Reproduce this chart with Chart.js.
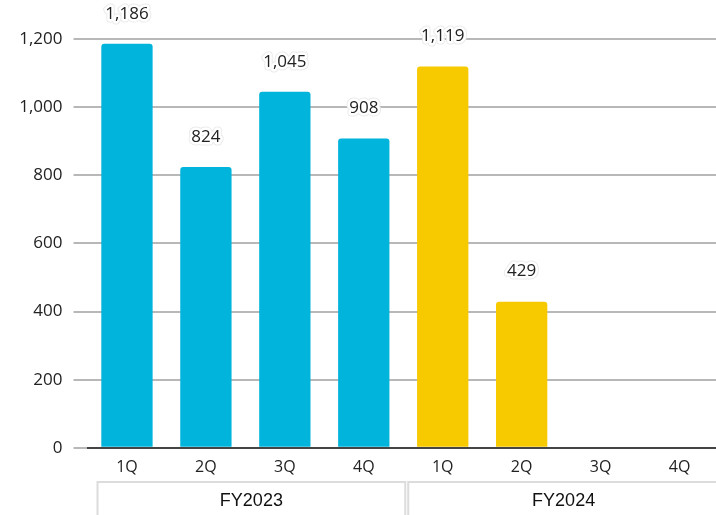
<!DOCTYPE html>
<html>
<head>
<meta charset="utf-8">
<script src="https://cdn.jsdelivr.net/npm/chart.js@4.4.1/dist/chart.umd.min.js"></script>
<style>
  html, body { margin: 0; padding: 0; background: #fff; overflow: hidden; }
  #wrap { position: relative; width: 719px; height: 515px; }
</style>
</head>
<body>
<div id="wrap"><canvas id="salesChart"></canvas></div>
<script>
// quarters and fiscal years on the x axis
const quarters = ['1Q', '2Q', '3Q', '4Q', '1Q', '2Q', '3Q', '4Q'];
const fiscalYears = ['FY2023', 'FY2023', 'FY2023', 'FY2023', 'FY2024', 'FY2024', 'FY2024', 'FY2024'];
const values = [1186, 824, 1045, 908, 1119, 429, null, null];
const yTicks = [0, 200, 400, 600, 800, 1000, 1200];

const yearColors = { FY2023: '#00B4DC', FY2024: '#F7CA00' };

const fmt = v => v.toLocaleString('en-US');

// value above each bar, white halo round the text
const barLabels = {
    id: 'barLabels',
    afterDatasetsDraw(chart) {
        const ctx = chart.ctx;
        const meta = chart.getDatasetMeta(0);
        ctx.save();
        ctx.font = '17px "Open Sans"';
        ctx.textAlign = 'center';
        ctx.textBaseline = 'middle';
        ctx.lineJoin = 'round';
        meta.data.forEach((bar, i) => {
            const v = values[i];
            if (v === null) return;
            const txt = fmt(v);
            const y = bar.y - 30;
            ctx.strokeStyle = '#ebebeb';
            ctx.lineWidth = 7;
            ctx.strokeText(txt, bar.x, y);
            ctx.strokeStyle = '#fff';
            ctx.lineWidth = 5;
            ctx.strokeText(txt, bar.x, y);
            ctx.fillStyle = '#222';
            ctx.fillText(txt, bar.x, y);
        });
        ctx.restore();
    }
};

// boxes with the fiscal year under the quarter labels
const yearBoxes = {
    id: 'yearBoxes',
    afterDraw(chart) {
        const ctx = chart.ctx;
        const xs = chart.scales.x;
        const half = (xs.getPixelForValue(1) - xs.getPixelForValue(0)) / 2;
        const groups = [];
        fiscalYears.forEach((fy, i) => {
            const last = groups[groups.length - 1];
            if (last && last.name === fy) last.end = i;
            else groups.push({ name: fy, start: i, end: i });
        });
        ctx.save();
        groups.forEach((g, k) => {
            const left = xs.getPixelForValue(g.start) - half + (k === 0 ? 10 : 5);
            const right = xs.getPixelForValue(g.end) + half - (k === 0 ? -2 : 0);
            const top = 482;
            ctx.strokeStyle = '#dcdcdc';
            ctx.lineWidth = 2;
            ctx.strokeRect(left, top, right - left, 60);
            ctx.fillStyle = '#111';
            ctx.font = '18px "Liberation Sans"';
            ctx.textAlign = 'center';
            ctx.textBaseline = 'middle';
            ctx.fillText(g.name, (left + right) / 2, 501);
        });
        ctx.restore();
    }
};

new Chart(document.getElementById('salesChart'), {
    type: 'bar',
    data: {
        labels: quarters,
        datasets: [{
            data: values,
            backgroundColor: fiscalYears.map(fy => yearColors[fy]),
            borderRadius: { topLeft: 3, topRight: 3 },
            borderSkipped: 'bottom',
            categoryPercentage: 1,
            barPercentage: 0.65
        }]
    },
    options: {
        responsive: true,
        maintainAspectRatio: false,
        animation: false,
        layout: { padding: { top: 39, bottom: 28, left: 0, right: 0 } },
        plugins: {
            legend: { display: false },
            tooltip: { enabled: false }
        },
        scales: {
            x: {
                grid: { display: false, drawTicks: false },
                border: { color: '#444', width: 2 },
                ticks: {
                    color: '#222',
                    padding: 10,
                    font: { family: 'Open Sans', size: 16 }
                }
            },
            y: {
                min: 0,
                max: 1200,
                afterBuildTicks: axis => { axis.ticks = yTicks.map(v => ({ value: v })); },
                afterFit: axis => { axis.width = 87.5; },
                grid: { color: '#b8b8b8', lineWidth: 2, tickLength: 14 },
                border: { display: false },
                ticks: {
                    color: '#222',
                    padding: 11,
                    font: { family: 'Open Sans', size: 17 },
                    callback: v => fmt(v)
                }
            }
        }
    },
    plugins: [barLabels, yearBoxes]
});
</script>
</body>
</html>
